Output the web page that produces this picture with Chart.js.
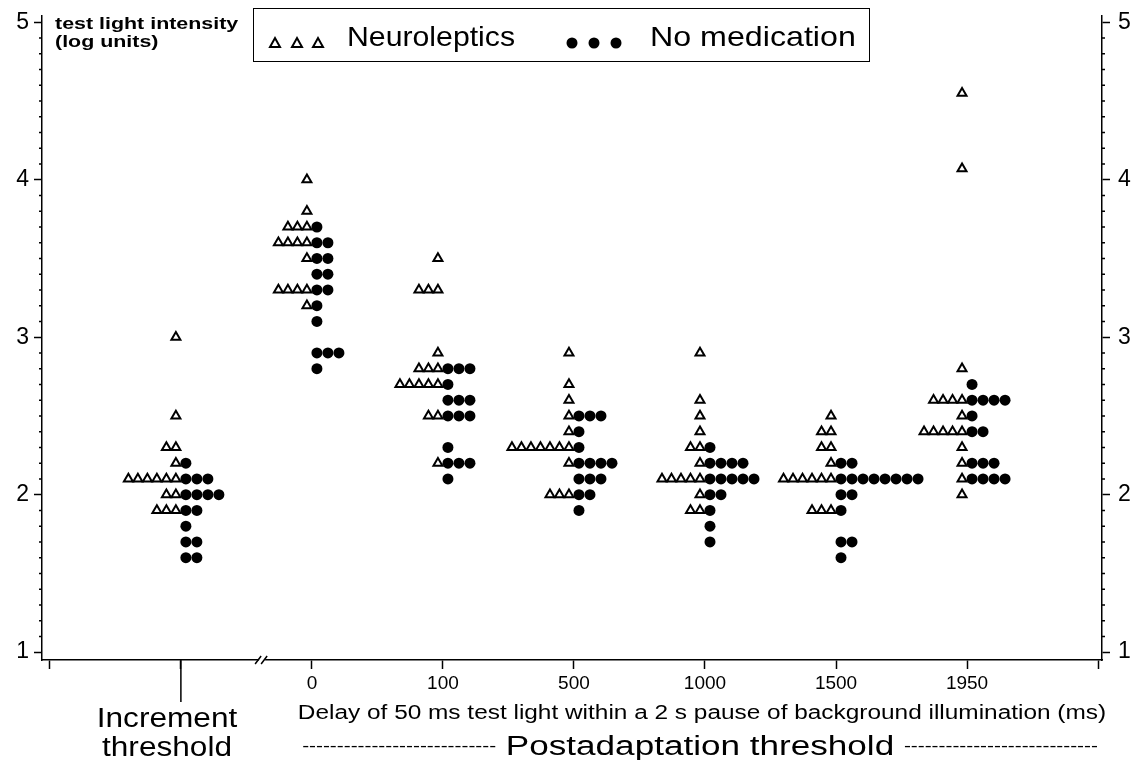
<!DOCTYPE html>
<html>
<head>
<meta charset="utf-8">
<script src="https://cdn.jsdelivr.net/npm/chart.js@4.4.1/dist/chart.umd.min.js"></script>
<style>
  html, body { margin: 0; padding: 0; background: #fff; }
  #wrap { position: relative; width: 1140px; height: 760px; font-family: "Liberation Sans", Arial, sans-serif; color: #000; }
  #chart { position: absolute; left: 0; top: 0; }
  .txt { position: absolute; white-space: nowrap; line-height: 1; }
  #ytitle { left: 55px; top: 15px; font-size: 17px; font-weight: bold; line-height: 18px; transform: scaleX(1.26); transform-origin: left top; }
  #legend { position: absolute; left: 253px; top: 8px; width: 615px; height: 52px; border: 1.5px solid #000; }
  #legend svg { position: absolute; top: 0; }
  #legend .lt { position: absolute; top: 12px; font-size: 28px; transform-origin: left top; }
  #xtitle { left: 0; width: 1404px; top: 702px; text-align: center; font-size: 20px; transform: scaleX(1.22); transform-origin: 702px 0; }
  #incr { left: 67px; width: 200px; top: 704px; text-align: center; font-size: 27px; line-height: 29px; transform: scaleX(1.17); transform-origin: 100px 0; }
  #post { left: 0; width: 1400px; top: 733px; text-align: center; font-size: 27px; transform: scaleX(1.3); transform-origin: 700px 0; }
  #post .d { font-size: 16px; vertical-align: 4px; }
</style>
</head>
<body>
<div id="wrap">
  <canvas id="chart" width="1140" height="760"></canvas>
  <div id="ytitle" class="txt">test light intensity<br>(log units)</div>
  <div id="legend">
    <svg width="90" height="52" style="left:8px">
      <polygon points="8,38 18,38 13,29" fill="#fff" stroke="#000" stroke-width="2"/>
      <polygon points="30,38 40,38 35,29" fill="#fff" stroke="#000" stroke-width="2"/>
      <polygon points="51,38 61,38 56,29" fill="#fff" stroke="#000" stroke-width="2"/>
    </svg>
    <span class="lt" style="left:93px; transform: scaleX(1.08)">Neuroleptics</span>
    <svg width="80" height="52" style="left:300px">
      <circle cx="18" cy="34" r="5.5" fill="#000"/>
      <circle cx="40" cy="34" r="5.5" fill="#000"/>
      <circle cx="62" cy="34" r="5.5" fill="#000"/>
    </svg>
    <span class="lt" style="left:396px; transform: scaleX(1.15)">No medication</span>
  </div>
  <div id="xtitle" class="txt">Delay of 50 ms test light within a 2 s pause of background illumination (ms)</div>
  <div id="incr" class="txt">Increment<br>threshold</div>
  <div id="post" class="txt"><span class="d">----------------------------</span> Postadaptation threshold <span class="d">----------------------------</span></div>
</div>
<script>
// groups along the x axis (first one is the increment threshold)
const groupNames = ["Increment threshold", "0", "100", "500", "1000", "1500", "1950"];
const xTickLabels = ["", "0", "100", "500", "1000", "1500", "1950"];
const yTickLabels = ["1", "2", "3", "4", "5"];

// test light intensity (log units), one value per subject
const neuroIncrement = [3.0, 2.5, 2.3, 2.3, 2.2, 2.1, 2.1, 2.1, 2.1, 2.1, 2.1, 2.0, 2.0, 1.9, 1.9, 1.9];
const neuro0 = [4.0, 3.8, 3.7, 3.7, 3.7, 3.6, 3.6, 3.6, 3.6, 3.5, 3.3, 3.3, 3.3, 3.3, 3.2];
const neuro100 = [3.5, 3.3, 3.3, 3.3, 2.9, 2.8, 2.8, 2.8, 2.7, 2.7, 2.7, 2.7, 2.7, 2.5, 2.5, 2.2];
const neuro500 = [2.9, 2.7, 2.6, 2.5, 2.4, 2.3, 2.3, 2.3, 2.3, 2.3, 2.3, 2.3, 2.2, 2.0, 2.0, 2.0];
const neuro1000 = [2.9, 2.6, 2.5, 2.4, 2.3, 2.3, 2.2, 2.1, 2.1, 2.1, 2.1, 2.1, 2.0, 1.9, 1.9];
const neuro1500 = [2.5, 2.4, 2.4, 2.3, 2.3, 2.2, 2.1, 2.1, 2.1, 2.1, 2.1, 2.1, 1.9, 1.9, 1.9];
const neuro1950 = [4.55, 4.07, 2.8, 2.6, 2.6, 2.6, 2.6, 2.5, 2.4, 2.4, 2.4, 2.4, 2.4, 2.3, 2.2, 2.1, 2.0];

const noMedIncrement = [2.2, 2.1, 2.1, 2.1, 2.0, 2.0, 2.0, 2.0, 1.9, 1.9, 1.8, 1.7, 1.7, 1.6, 1.6];
const noMed0 = [3.7, 3.6, 3.6, 3.5, 3.5, 3.4, 3.4, 3.3, 3.3, 3.2, 3.1, 2.9, 2.9, 2.9, 2.8];
const noMed100 = [2.8, 2.8, 2.8, 2.7, 2.6, 2.6, 2.6, 2.5, 2.5, 2.5, 2.3, 2.2, 2.2, 2.2, 2.1];
const noMed500 = [2.5, 2.5, 2.5, 2.4, 2.3, 2.2, 2.2, 2.2, 2.2, 2.1, 2.1, 2.1, 2.0, 2.0, 1.9];
const noMed1000 = [2.3, 2.2, 2.2, 2.2, 2.2, 2.1, 2.1, 2.1, 2.1, 2.1, 2.0, 2.0, 1.9, 1.8, 1.7];
const noMed1500 = [2.2, 2.2, 2.1, 2.1, 2.1, 2.1, 2.1, 2.1, 2.1, 2.1, 2.0, 2.0, 1.9, 1.7, 1.7, 1.6];
const noMed1950 = [2.7, 2.6, 2.6, 2.6, 2.6, 2.5, 2.4, 2.4, 2.2, 2.2, 2.2, 2.1, 2.1, 2.1, 2.1];

const neuroleptics = [neuroIncrement, neuro0, neuro100, neuro500, neuro1000, neuro1500, neuro1950];
const noMedication = [noMedIncrement, noMed0, noMed100, noMed500, noMed1000, noMed1500, noMed1950];

// spacing of tied values, in x axis units (1 unit = one group = 131 px)
const X_GAP = 5 / 131;
const TRI_STEP = 9.5 / 131;
const DOT_STEP = 11 / 131;

function buildPoints(groups, side, step) {
    const pts = [];
    groups.forEach((vals, g) => {
        const used = {};
        vals.forEach(v => {
            const key = v.toFixed(2);
            const k = used[key] || 0;
            used[key] = k + 1;
            pts.push({ x: g + side * (X_GAP + k * step), y: v });
        });
    });
    return pts;
}

// minor ticks, the long tick under "Increment threshold" and the axis break
const axisExtras = {
    id: 'axisExtras',
    afterDraw(chart) {
        const ctx = chart.ctx;
        const x = chart.scales.x;
        const yl = chart.scales.y;
        const yr = chart.scales.y2;
        const bottom = chart.chartArea.bottom;
        ctx.save();
        ctx.strokeStyle = '#000';
        ctx.lineWidth = 1.5;
        ctx.beginPath();
        for (let i = 10; i <= 50; i++) {
            if (i % 10 === 0) continue;
            const py = yl.getPixelForValue(i / 10);
            ctx.moveTo(yl.right - 3, py); ctx.lineTo(yl.right, py);
            ctx.moveTo(yr.left, py); ctx.lineTo(yr.left + 3, py);
        }
        // long tick for the increment threshold
        const px0 = x.getPixelForValue(0);
        ctx.moveTo(px0, bottom); ctx.lineTo(px0, bottom + 42);
        ctx.stroke();

        // axis break
        const pb = x.getPixelForValue(0.62);
        ctx.fillStyle = '#fff';
        ctx.fillRect(pb - 3, bottom - 3, 6, 6);
        ctx.beginPath();
        ctx.moveTo(pb - 7, bottom + 4); ctx.lineTo(pb - 1, bottom - 4);
        ctx.moveTo(pb - 1, bottom + 4); ctx.lineTo(pb + 5, bottom - 4);
        ctx.stroke();
        ctx.restore();
    }
};

const tickFont = { family: '"Liberation Sans", Arial, sans-serif', size: 23 };

// fixed widths for the two value axes, no extra room reserved above the top label
function fitY(width) {
    return (scale) => {
        scale.width = width;
        scale.paddingTop = 0;
        scale.paddingBottom = 0;
    };
}

const ctx = document.getElementById('chart').getContext('2d');
const chart = new Chart(ctx, {
    type: 'scatter',
    data: {
        datasets: [{
            label: 'Neuroleptics',
            data: buildPoints(neuroleptics, -1, TRI_STEP),
            pointStyle: 'triangle',
            pointRadius: 5.2,
            backgroundColor: '#fff',
            borderColor: '#000',
            borderWidth: 2
        }, {
            label: 'No medication',
            data: buildPoints(noMedication, 1, DOT_STEP),
            pointStyle: 'circle',
            pointRadius: 5.5,
            backgroundColor: '#000',
            borderColor: '#000',
            borderWidth: 0
        }]
    },
    options: {
        responsive: false,
        animation: false,
        layout: { padding: { top: 16, left: 0, right: 0, bottom: 0 } },
        plugins: { legend: { display: false }, tooltip: { enabled: false } },
        scales: {
            x: {
                type: 'linear',
                min: -1.06,
                max: 7.03,
                afterBuildTicks: (scale) => {
                    scale.ticks = [-1, 0, 1, 2, 3, 4, 5, 6, 7].map(v => ({ value: v }));
                },
                afterFit: (scale) => { scale.height = 100; },
                ticks: {
                    autoSkip: false,
                    maxRotation: 0,
                    padding: 3,
                    color: '#000',
                    font: { family: '"Liberation Sans", Arial, sans-serif', size: 19 },
                    callback: (v) => xTickLabels[v] || ''
                },
                grid: { drawOnChartArea: false, tickLength: 9, tickWidth: 1.5, tickColor: '#000' },
                border: { display: true, color: '#000', width: 1.5 }
            },
            y: {
                position: 'left',
                min: 0.95,
                max: 5.04,
                afterBuildTicks: (scale) => {
                    scale.ticks = yTickLabels.map(v => ({ value: Number(v) }));
                },
                afterFit: fitY(42),
                ticks: { color: '#000', padding: 5, font: tickFont },
                grid: { drawOnChartArea: false, tickLength: 8, tickWidth: 1.5, tickColor: '#000' },
                border: { display: true, color: '#000', width: 1.5 }
            },
            y2: {
                position: 'right',
                min: 0.95,
                max: 5.04,
                afterBuildTicks: (scale) => {
                    scale.ticks = yTickLabels.map(v => ({ value: Number(v) }));
                },
                afterFit: fitY(38),
                ticks: { color: '#000', padding: 8, font: tickFont },
                grid: { drawOnChartArea: false, tickLength: 8, tickWidth: 1.5, tickColor: '#000' },
                border: { display: true, color: '#000', width: 1.5 }
            }
        }
    },
    plugins: [axisExtras]
});
</script>
</body>
</html>
